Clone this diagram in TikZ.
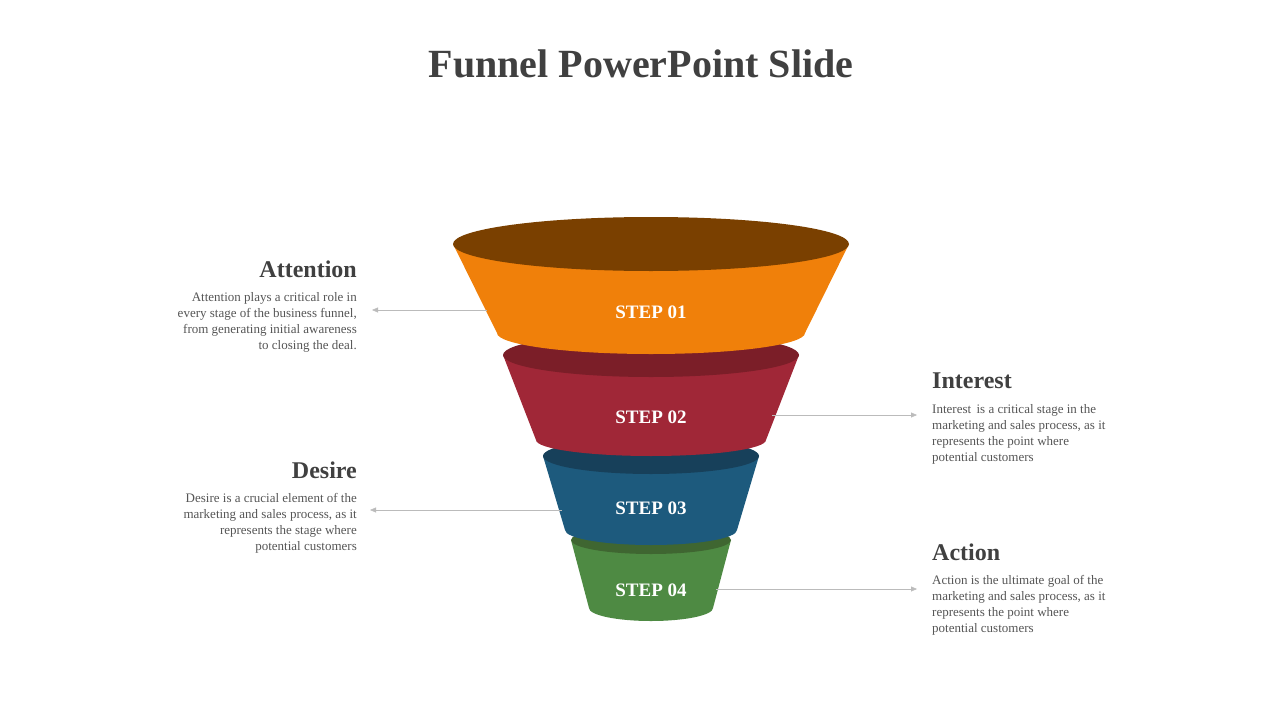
\documentclass[tikz,border=0pt]{standalone}
\usepackage{fontspec}
\setmainfont{Liberation Serif}
\usetikzlibrary{arrows.meta}
\definecolor{titlegray}{HTML}{404040}
\definecolor{textgray}{HTML}{555555}
\definecolor{linegray}{HTML}{BBBBBB}
\definecolor{orangeA}{HTML}{F0800A}
\definecolor{orangeB}{HTML}{7A4000}
\definecolor{redA}{HTML}{A02737}
\definecolor{redB}{HTML}{7B1E28}
\definecolor{blueA}{HTML}{1D5A7D}
\definecolor{blueB}{HTML}{17405A}
\definecolor{greenA}{HTML}{4E8A43}
\definecolor{greenB}{HTML}{3F6631}
\begin{document}
\begin{tikzpicture}[x=1pt,y=-1pt,
            heading/.style={font=\fontsize{24}{28}\selectfont\bfseries, text=titlegray, inner sep=0pt},
            para/.style={font=\fontsize{13}{16}\selectfont, text=textgray, inner sep=0pt},
            steplabel/.style={font=\fontsize{19}{22}\selectfont\bfseries, text=white},
            pointer/.style={draw=linegray, thin, -{Triangle[length=6pt,width=5pt]}}
            ]
            \useasboundingbox (0,0) rectangle (1280,720);

            % segments from the bottom up: colour/shade/centre y top/rx top/ry top/y bottom/rx bottom/ry bottom
            \foreach \c/\s/\yt/\rt/\qt/\yb/\rb/\qb in {greenA/greenB/540/80/14/608/62/13,
                                                      blueA/blueB/456/108/18/530/86/15,
                                                      redA/redB/355/148/22/440/115/16,
                                                      orangeA/orangeB/244/198/27/333/154/21} {
                \fill[\c] (651-\rt,\yt) -- (651-\rb,\yb) arc[start angle=180, end angle=360, x radius=\rb, y radius=-\qb] -- (651+\rt,\yt) -- cycle;
                \fill[\s] (651,\yt) ellipse[x radius=\rt, y radius=\qt];
            }

            \node[font=\fontsize{40}{46}\selectfont\bfseries, text=titlegray] (title) at (641,64) {Funnel PowerPoint Slide};

            \node[steplabel] (s1) at (651,312) {STEP 01};
            \node[steplabel] (s2) at (651,417) {STEP 02};
            \node[steplabel] (s3) at (651,508) {STEP 03};
            \node[steplabel] (s4) at (651,590) {STEP 04};

            \node[heading, anchor=east] (h1) at (357,269) {Attention};
            \node[para, anchor=north east, align=right] (p1) at (357,292) {Attention plays a critical role in\\every stage of the business funnel,\\from generating initial awareness\\to closing the deal.};
            \node[heading, anchor=west] (h2) at (932,381) {Interest};
            \node[para, anchor=north west, align=left] (p2) at (932,404) {Interest\, is a critical stage in the\\marketing and sales process, as it\\represents the point where\\potential customers};
            \node[heading, anchor=east] (h3) at (357,470) {Desire};
            \node[para, anchor=north east, align=right] (p3) at (357,493) {Desire is a crucial element of the\\marketing and sales process, as it\\represents the stage where\\potential customers};
            \node[heading, anchor=west] (h4) at (932,552) {Action};
            \node[para, anchor=north west, align=left] (p4) at (932,575) {Action is the ultimate goal of the\\marketing and sales process, as it\\represents the point where\\potential customers};

            \coordinate (e1) at (487,310);
            \coordinate (e2) at (772,415);
            \coordinate (e3) at (562,510);
            \coordinate (e4) at (716,589);
            \draw[pointer] (e1) -- (372,310);
            \draw[pointer] (e2) -- (917,415);
            \draw[pointer] (e3) -- (370,510);
            \draw[pointer] (e4) -- (917,589);

        \end{tikzpicture}
\end{document}
